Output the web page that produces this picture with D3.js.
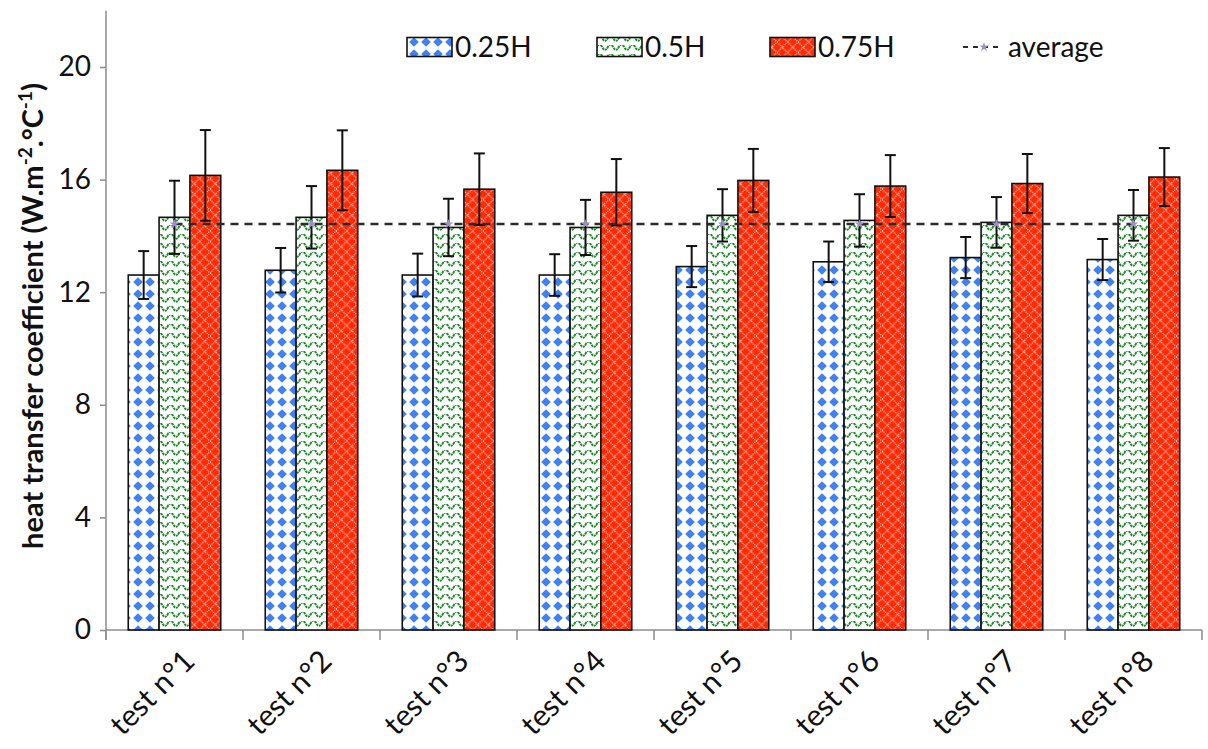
<!DOCTYPE html>
<html>
<head>
<meta charset="utf-8">
<script src="https://cdn.jsdelivr.net/npm/d3@7"></script>
<style>
  html, body { margin: 0; padding: 0; background: #fff; }
  svg { display: block; }
</style>
</head>
<body>
<svg id="chart" width="1208" height="749"></svg>
<script>
// ---- data ----
const categories = ["test n°1", "test n°2", "test n°3", "test n°4", "test n°5", "test n°6", "test n°7", "test n°8"];
const seriesNames = ["0.25H", "0.5H", "0.75H"];
const values025 = [12.61, 12.78, 12.61, 12.61, 12.91, 13.08, 13.23, 13.16];
const errors025 = [0.85, 0.79, 0.76, 0.74, 0.73, 0.72, 0.73, 0.73];
const values05 = [14.66, 14.66, 14.30, 14.30, 14.73, 14.55, 14.48, 14.73];
const errors05 = [1.30, 1.11, 1.02, 0.98, 0.93, 0.93, 0.90, 0.90];
const values075 = [16.15, 16.33, 15.66, 15.55, 15.97, 15.77, 15.86, 16.09];
const errors075 = [1.61, 1.42, 1.27, 1.18, 1.12, 1.10, 1.05, 1.03];
const averageValues = [14.42, 14.42, 14.42, 14.42, 14.42, 14.42, 14.42, 14.42];
const yTicks = [0, 4, 8, 12, 16, 20];
const yMax = 22;

const seriesValues = [values025, values05, values075];
const seriesErrors = [errors025, errors05, errors075];

const svg = d3.select("#chart");
const font = "Lato, 'Open Sans', sans-serif";

// ---- patterns ----
const defs = svg.append("defs");
// blue diamonds
const pb = defs.append("pattern").attr("id", "pBlue").attr("patternUnits", "userSpaceOnUse")
  .attr("width", 12).attr("height", 12);
pb.append("rect").attr("width", 12).attr("height", 12).attr("fill", "#fff");
pb.append("path").attr("d", "M6,1.2 L10.8,6 L6,10.8 L1.2,6 Z").attr("fill", "#3f80f2");
// green waves
const pg = defs.append("pattern").attr("id", "pGreen").attr("patternUnits", "userSpaceOnUse")
  .attr("width", 11).attr("height", 9);
pg.append("rect").attr("width", 11).attr("height", 9).attr("fill", "#fff");
pg.append("path").attr("d", "M-2.75,2.2 Q0,7.6 2.75,2.2 T8.25,2.2 T13.75,2.2")
  .attr("fill", "none").attr("stroke", "#1f8a2a").attr("stroke-width", 1.9)
  .attr("stroke-dasharray", "2.6,0.7");
// red lattice
const pr = defs.append("pattern").attr("id", "pRed").attr("patternUnits", "userSpaceOnUse")
  .attr("width", 10.5).attr("height", 10.5);
pr.append("rect").attr("width", 10.5).attr("height", 10.5).attr("fill", "#ff2a04");
pr.append("path").attr("d", "M0,0 L10.5,10.5 M0,10.5 L10.5,0")
  .attr("fill", "none").attr("stroke", "#ffffff").attr("stroke-width", 1)
  .attr("stroke-dasharray", "1.2,0.9").attr("opacity", 0.9);

const fills = ["url(#pBlue)", "url(#pGreen)", "url(#pRed)"];

// ---- scales ----
const x0 = 106, x1 = 1202, yBottom = 630;
const x = d3.scaleBand().domain(categories).range([x0, x1]).paddingInner(0).paddingOuter(0);
const y = d3.scaleLinear().domain([0, yMax]).range([yBottom, 10.7]);
const groupW = 92.5;
const xs = d3.scaleBand().domain(seriesNames)
  .range([(x.bandwidth() - groupW) / 2, (x.bandwidth() + groupW) / 2]);

// ---- axes ----
const axisColor = "#8c8c8c";
const yAxis = svg.append("g").attr("transform", `translate(${x0},0)`)
  .call(d3.axisLeft(y).tickValues(yTicks).tickSize(6).tickPadding(9).tickFormat(d3.format("d")));
yAxis.select(".domain").remove();
yAxis.selectAll(".tick line").attr("stroke", axisColor).attr("stroke-width", 1.5);
yAxis.selectAll(".tick text").attr("font-family", font).attr("font-size", 28).attr("fill", "#111");
svg.append("line").attr("x1", x0).attr("x2", x0).attr("y1", y(yMax)).attr("y2", yBottom + 10)
  .attr("stroke", axisColor).attr("stroke-width", 1.5);

// x axis line and ticks at band boundaries
svg.append("line").attr("x1", x0).attr("x2", x1).attr("y1", yBottom).attr("y2", yBottom)
  .attr("stroke", axisColor).attr("stroke-width", 1.5);
const boundaries = categories.map(c => x(c)).concat([x1]);
svg.append("g").selectAll("line").data(boundaries).join("line")
  .attr("x1", d => d).attr("x2", d => d).attr("y1", yBottom).attr("y2", yBottom + 10)
  .attr("stroke", axisColor).attr("stroke-width", 1.5);

// x labels rotated
svg.append("g").selectAll("text").data(categories).join("text")
  .attr("transform", d => `translate(${x(d) + x.bandwidth() / 2 + 22},${yBottom + 33}) rotate(-45)`)
  .attr("text-anchor", "end")
  .attr("font-family", font).attr("font-size", 30).attr("fill", "#111")
  .text(d => d);

// y title
const title = svg.append("text")
  .attr("transform", `translate(43,316) rotate(-90)`)
  .attr("text-anchor", "middle")
  .attr("font-family", font).attr("font-size", 29).attr("font-weight", "bold").attr("fill", "#111");
title.append("tspan").text("heat transfer coefficient (W.m");
title.append("tspan").attr("dy", -11).attr("font-size", 19).text("-2");
title.append("tspan").attr("dy", 11).text(".°C");
title.append("tspan").attr("dy", -11).attr("font-size", 19).text("-1");
title.append("tspan").attr("dy", 11).text(")");

// ---- bars ----
const barData = [];
categories.forEach((c, i) => {
  seriesNames.forEach((s, j) => {
    barData.push({ c, s, j, v: seriesValues[j][i], e: seriesErrors[j][i] });
  });
});
svg.append("g").selectAll("rect").data(barData).join("rect")
  .attr("x", d => x(d.c) + xs(d.s))
  .attr("y", d => y(d.v))
  .attr("width", xs.bandwidth())
  .attr("height", d => yBottom - y(d.v))
  .attr("fill", d => fills[d.j])
  .attr("stroke", "#111").attr("stroke-width", 1.6);

// ---- error bars ----
const eg = svg.append("g").attr("stroke", "#111").attr("stroke-width", 2);
barData.forEach(d => {
  const cx = x(d.c) + xs(d.s) + xs.bandwidth() / 2;
  eg.append("line").attr("x1", cx).attr("x2", cx).attr("y1", y(d.v + d.e)).attr("y2", y(d.v - d.e));
  eg.append("line").attr("x1", cx - 5.5).attr("x2", cx + 5.5).attr("y1", y(d.v + d.e)).attr("y2", y(d.v + d.e));
  eg.append("line").attr("x1", cx - 5.5).attr("x2", cx + 5.5).attr("y1", y(d.v - d.e)).attr("y2", y(d.v - d.e));
});

// ---- average line ----
const line = d3.line().x((d, i) => x(categories[i]) + x.bandwidth() / 2).y(d => y(d));
svg.append("path").datum(averageValues).attr("d", line)
  .attr("fill", "none").attr("stroke", "#2b2b2b").attr("stroke-width", 2.5)
  .attr("stroke-dasharray", "8,6");
const star = d3.symbol().type(d3.symbolStar).size(28);
svg.append("g").selectAll("path").data(averageValues).join("path")
  .attr("d", star)
  .attr("transform", (d, i) => `translate(${x(categories[i]) + x.bandwidth() / 2},${y(d)})`)
  .attr("fill", "#9d90c8");

// ---- legend ----
const legendItems = [
  { label: "0.25H", fill: fills[0], x: 407 },
  { label: "0.5H", fill: fills[1], x: 597 },
  { label: "0.75H", fill: fills[2], x: 770 }
];
const lg = svg.append("g");
legendItems.forEach(it => {
  lg.append("rect").attr("x", it.x).attr("y", 37.5).attr("width", 45).attr("height", 19)
    .attr("fill", it.fill).attr("stroke", "#111").attr("stroke-width", 1.6);
  lg.append("text").attr("x", it.x + 48).attr("y", 57).attr("font-family", font)
    .attr("font-size", 28).attr("fill", "#111").text(it.label);
});
lg.append("line").attr("x1", 963).attr("x2", 1003).attr("y1", 47).attr("y2", 47)
  .attr("stroke", "#2b2b2b").attr("stroke-width", 2).attr("stroke-dasharray", "5,5");
lg.append("path").attr("d", star).attr("transform", "translate(984,47)").attr("fill", "#9d90c8");
lg.append("text").attr("x", 1008).attr("y", 57).attr("font-family", font)
  .attr("font-size", 28).attr("fill", "#111").text("average");
</script>
</body>
</html>
